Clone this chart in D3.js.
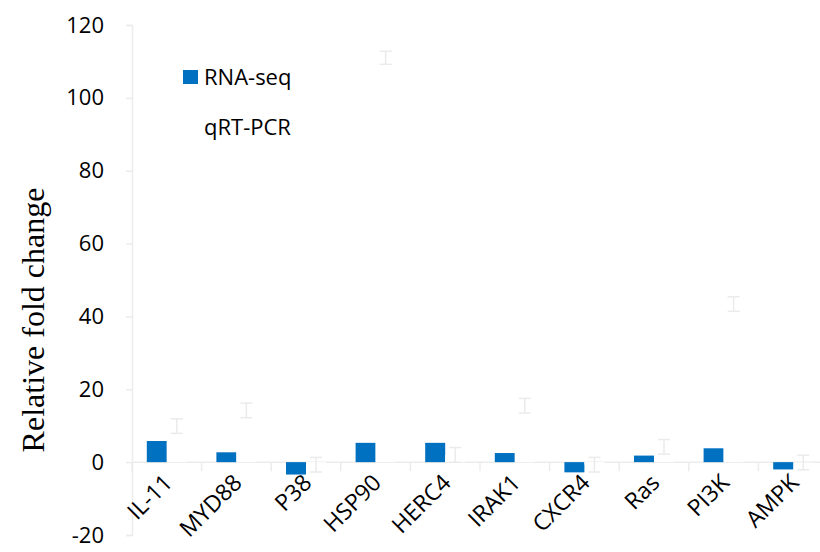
<!DOCTYPE html>
<html>
<head>
<meta charset="utf-8">
<script src="https://cdn.jsdelivr.net/npm/d3@7"></script>
<style>
  body { margin: 0; background: #fff; }
  text { font-family: "Open Sans", sans-serif; }
</style>
</head>
<body>
<svg id="chart"></svg>
<script>
const svg_w = 820;
const svg_h = 552;

// datos
const genes = ["IL-11","MYD88","P38","HSP90","HERC4","IRAK1","CXCR4","Ras","PI3K","AMPK"];
const series = ["RNA-seq","qRT-PCR"];
const rnaseq = [5.8, 2.7, -3.4, 5.3, 5.3, 2.5, -2.8, 1.8, 3.8, -2.0];
const qrtpcr = [9.9, 14.2, -0.7, 111, 2.0, 15.5, -0.7, 4.2, 43.4, -0.1];
const qrtpcr_err = [2, 2, 2, 1.8, 2, 2, 2, 2, 2, 2];
const y_ticks = [-20, 0, 20, 40, 60, 80, 100, 120];

const margin = {l:132, r:-8, t:25, b:17};

let svg = d3.select("#chart")
  .attr("width", svg_w)
  .attr("height", svg_h);

let x_scale = d3.scaleBand()
  .domain(genes)
  .range([margin.l, svg_w - margin.r]);

let bw = x_scale.bandwidth();
let x_sub = d3.scaleBand()
  .domain(series)
  .range([bw/2 - 20, bw/2 + 20]);

let y_scale = d3.scaleLinear()
  .domain([-20, 120])
  .range([svg_h - margin.b, margin.t]);

const axis_col = "#ececec";

// eje y
let y_axis = svg.append("g")
  .attr("transform", `translate(${margin.l},0)`)
  .call(d3.axisLeft(y_scale).tickValues(y_ticks).tickFormat(d => String(d)).tickSize(6).tickPadding(22));
y_axis.select(".domain").attr("stroke", axis_col).attr("stroke-width", 1.5);
y_axis.selectAll(".tick line").attr("stroke", axis_col).attr("stroke-width", 1.5);
y_axis.selectAll(".tick text")
  .attr("font-size", 22)
  .attr("fill", "#000")
  .style("font-family", "'Open Sans', sans-serif");

// línea del cero
let x_axis = svg.append("g")
  .attr("transform", `translate(0,${y_scale(0)})`);
x_axis.append("line")
  .attr("x1", margin.l).attr("x2", svg_w - margin.r)
  .attr("stroke", axis_col).attr("stroke-width", 1.5);
x_axis.selectAll(".tk")
  .data(genes)
  .enter()
  .append("line")
  .attr("x1", d => x_scale(d))
  .attr("x2", d => x_scale(d))
  .attr("y1", 0).attr("y2", 9)
  .attr("stroke", axis_col).attr("stroke-width", 1.5);

// etiquetas de categorías
svg.append("g")
  .selectAll("text")
  .data(genes)
  .enter()
  .append("text")
  .attr("transform", d => `translate(${x_scale(d) + bw/2 + 7},${y_scale(0) + 22}) rotate(-45)`)
  .attr("text-anchor", "end")
  .attr("font-size", 23)
  .attr("fill", "#000")
  .text(d => d);

// barras RNA-seq
svg.append("g")
  .selectAll("rect")
  .data(genes)
  .enter()
  .append("rect")
  .attr("x", d => x_scale(d) + x_sub("RNA-seq"))
  .attr("width", x_sub.bandwidth())
  .attr("y", (d,i) => y_scale(Math.max(0, rnaseq[i])))
  .attr("height", (d,i) => Math.abs(y_scale(rnaseq[i]) - y_scale(0)))
  .attr("fill", "#0070c0");

// barras qRT-PCR (blancas) con barras de error
let qg = svg.append("g");
qg.selectAll("rect")
  .data(genes)
  .enter()
  .append("rect")
  .attr("x", d => x_scale(d) + x_sub("qRT-PCR"))
  .attr("width", x_sub.bandwidth())
  .attr("y", (d,i) => y_scale(Math.max(0, qrtpcr[i])))
  .attr("height", (d,i) => Math.abs(y_scale(qrtpcr[i]) - y_scale(0)))
  .attr("fill", "#fff");

let err = svg.append("g")
  .attr("stroke", "#ebebeb")
  .attr("stroke-width", 1.5);
genes.forEach((d,i) => {
  let cx = x_scale(d) + x_sub("qRT-PCR") + x_sub.bandwidth()/2;
  let y1 = y_scale(qrtpcr[i] + qrtpcr_err[i]);
  let y2 = y_scale(qrtpcr[i] - qrtpcr_err[i]);
  err.append("line").attr("x1", cx).attr("x2", cx).attr("y1", y1).attr("y2", y2);
  err.append("line").attr("x1", cx-6).attr("x2", cx+6).attr("y1", y1).attr("y2", y1);
  err.append("line").attr("x1", cx-6).attr("x2", cx+6).attr("y1", y2).attr("y2", y2);
});

// leyenda
let legend = svg.append("g").attr("transform", "translate(183,70)");
legend.append("rect").attr("width", 15).attr("height", 14).attr("fill", "#0070c0");
legend.append("text").attr("x", 21).attr("y", 7).attr("dy", "0.35em")
  .attr("font-size", 22).text("RNA-seq");
legend.append("text").attr("x", 21).attr("y", 57).attr("dy", "0.35em")
  .attr("font-size", 22).text("qRT-PCR");

// título del eje y
svg.append("text")
  .attr("transform", `translate(33,${(margin.t + svg_h - margin.b)/2 + 40}) rotate(-90)`)
  .attr("text-anchor", "middle")
  .attr("dy", "0.35em")
  .style("font-family", "'Liberation Serif', 'Times New Roman', serif")
  .attr("font-size", 32)
  .text("Relative fold change");
</script>
</body>
</html>
